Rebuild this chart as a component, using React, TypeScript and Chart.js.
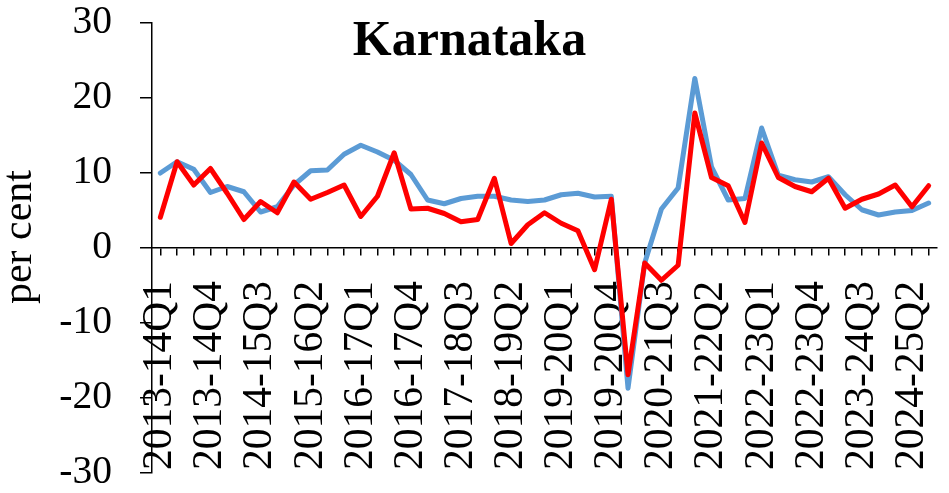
import React, { useEffect, useRef } from 'react';
import { Chart, registerables } from 'chart.js';

Chart.register(...registerables);

// ---- data ----
const fiscalYears = [
  '2013-14', '2014-15', '2015-16', '2016-17', '2017-18', '2018-19',
  '2019-20', '2020-21', '2021-22', '2022-23', '2023-24', '2024-25',
];
const quarters = ['Q1', 'Q2', 'Q3', 'Q4'];
const categories = fiscalYears.flatMap((fy) => quarters.map((q) => fy + q)).slice(0, 47);

const blueSeries = [
  10.0, 11.5, 10.5, 7.4, 8.2, 7.5, 4.8, 5.5, 8.4, 10.3,
  10.4, 12.5, 13.7, 12.8, 11.7, 9.8, 6.4, 5.9, 6.6, 6.9,
  6.9, 6.4, 6.2, 6.4, 7.1, 7.3, 6.8, 6.9, -18.7, -2.0,
  5.2, 8.0, 22.6, 10.8, 6.4, 6.6, 16.0, 9.7, 9.1, 8.8,
  9.5, 7.1, 5.1, 4.4, 4.8, 5.0, 6.0,
];
const redSeries = [
  4.1, 11.5, 8.4, 10.6, 7.3, 3.8, 6.2, 4.7, 8.8, 6.5,
  7.4, 8.4, 4.2, 6.9, 12.7, 5.2, 5.3, 4.6, 3.5, 3.8,
  9.3, 0.6, 3.1, 4.7, 3.3, 2.3, -2.9, 6.5, -16.9, -2.0,
  -4.3, -2.3, 18.0, 9.4, 8.3, 3.4, 14.0, 9.4, 8.2, 7.5,
  9.3, 5.3, 6.5, 7.2, 8.4, 5.5, 8.3,
];
const yTickValues = [-30, -20, -10, 0, 10, 20, 30];
const labelEvery = 3;
const chartTitle = 'Karnataka';
const yAxisTitle = 'per cent';

const FONT = "'Liberation Serif', 'Times New Roman', serif";

const textPlugin = {
  id: 'overlayText',
  afterDraw(chart: any) {
    const ctx = chart.ctx;
    ctx.save();
    ctx.fillStyle = '#000';
    // chart title, inside the plot area
    ctx.font = `bold 50px ${FONT}`;
    ctx.textAlign = 'center';
    ctx.textBaseline = 'alphabetic';
    ctx.fillText(chartTitle, 469.5, 55);
    // y axis title
    ctx.font = `42px ${FONT}`;
    ctx.translate(20, 237);
    ctx.rotate(-Math.PI / 2);
    ctx.textAlign = 'center';
    ctx.textBaseline = 'middle';
    ctx.fillText(yAxisTitle, 0, 0);
    ctx.restore();
  },
};

export default function App() {
  const ref = useRef<HTMLCanvasElement | null>(null);

  useEffect(() => {
    if (!ref.current) return;
    const chart = new Chart(ref.current, {
      type: 'line',
      data: {
        labels: categories,
        datasets: [
          {
            label: 'Series 1',
            data: blueSeries,
            borderColor: '#5B9BD5',
            backgroundColor: '#5B9BD5',
            borderWidth: 5,
            pointRadius: 0,
            tension: 0,
            borderJoinStyle: 'round',
            borderCapStyle: 'round',
            order: 2,
          },
          {
            label: 'Series 2',
            data: redSeries,
            borderColor: '#FF0000',
            backgroundColor: '#FF0000',
            borderWidth: 5,
            pointRadius: 0,
            tension: 0,
            borderJoinStyle: 'round',
            borderCapStyle: 'round',
            order: 1,
          },
        ],
      },
      options: {
        animation: false,
        responsive: true,
        maintainAspectRatio: false,
        layout: { padding: { left: 0, top: 23, right: 12, bottom: 20 } },
        plugins: {
          legend: { display: false },
          title: { display: false },
          tooltip: { enabled: false },
        },
        scales: {
          x: {
            type: 'category',
            position: { y: 0 } as any,
            offset: true,
            grid: {
              display: true,
              drawOnChartArea: false,
              drawTicks: true,
              tickLength: 7,
              color: '#000',
              lineWidth: 1.5,
              offset: false,
            },
            border: { display: true, color: '#000', width: 1.5 },
            ticks: {
              autoSkip: false,
              minRotation: 90,
              maxRotation: 90,
              padding: 26,
              color: '#000',
              font: { family: FONT, size: 41.5, lineHeight: 1 },
              callback: (_v: any, i: number) => (i % labelEvery === 0 ? categories[i] : ''),
            },
            afterFit: (s: any) => {
              s.paddingLeft = 0;
              s.paddingRight = 0;
            },
          },
          y: {
            min: -30,
            max: 30,
            afterBuildTicks: (s: any) => {
              s.ticks = yTickValues.map((v) => ({ value: v }));
            },
            grid: {
              display: true,
              drawOnChartArea: false,
              drawTicks: true,
              tickLength: 12,
              color: '#000',
              lineWidth: 1.5,
            },
            border: { display: true, color: '#000', width: 1.5 },
            ticks: {
              padding: 28,
              color: '#000',
              font: { family: FONT, size: 39.5, lineHeight: 1 },
            },
            title: { display: false },
            afterFit: (s: any) => {
              s.width = 152;
              s.paddingTop = 0;
              s.paddingBottom = 0;
            },
          },
        },
      },
      plugins: [textPlugin],
    });
    return () => chart.destroy();
  }, []);

  return (
    <div style={{ position: 'absolute', left: 0, top: 0, width: 949, height: 493, background: '#fff' }}>
      <canvas ref={ref} />
    </div>
  );
}
